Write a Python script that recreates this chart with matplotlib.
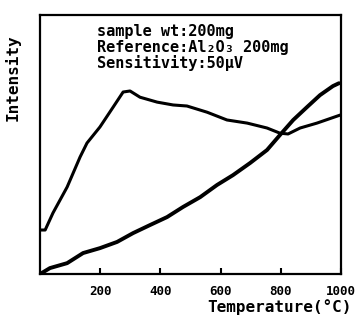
import numpy as np
import matplotlib
matplotlib.use('Agg')
from matplotlib import pyplot as plt

# upper curve (sample)
temp_a = [0, 17, 43, 90, 133, 156, 199, 243, 276, 299, 332, 389, 442, 488,
          555, 621, 688, 754, 797, 824, 864, 920, 997]
int_a = [0.17, 0.17, 0.236, 0.336, 0.452, 0.506, 0.568, 0.645, 0.703, 0.707,
         0.683, 0.664, 0.653, 0.649, 0.625, 0.595, 0.583, 0.564, 0.544, 0.541,
         0.564, 0.583, 0.614]

# lower curve (rising baseline)
temp_b = [0, 33, 90, 143, 199, 256, 309, 365, 422, 475, 532, 588, 641, 698,
          754, 797, 841, 887, 930, 973, 993]
int_b = [0.0, 0.023, 0.042, 0.081, 0.100, 0.124, 0.158, 0.189, 0.220, 0.259,
         0.297, 0.344, 0.382, 0.429, 0.479, 0.537, 0.595, 0.645, 0.691, 0.726,
         0.737]

xticks = [200, 400, 600, 800, 1000]
notes = ['sample wt:200mg', 'Reference:Al₂O₃ 200mg', 'Sensitivity:50μV']

mono = 'DejaVu Sans Mono'

fig = plt.figure(figsize=(3.64, 3.22), dpi=100)
ax = fig.add_axes([0.110, 0.149, 0.827, 0.804])

ax.plot(temp_a, int_a, color='black', lw=2.2, solid_capstyle='round')
ax.plot(temp_b, int_b, color='black', lw=2.8, solid_capstyle='round')

ax.set_xlim(0, 1000)
ax.set_ylim(0, 1)
ax.set_xticks(xticks)
ax.set_xticklabels([str(t) for t in xticks], family=mono, fontsize=9, fontweight='bold')
ax.set_yticks([])
ax.tick_params(axis='x', direction='in', length=4, width=1.5, pad=8)
for s in ax.spines.values():
    s.set_linewidth(1.6)

for i, t in enumerate(notes):
    ax.text(0.19, 0.935 - i * 0.06, t, transform=ax.transAxes, family=mono,
            fontsize=11, fontweight='bold', va='center', ha='left')

fig.text(0.965, 0.045, 'Temperature(°C)', family=mono, fontsize=11.5,
         fontweight='bold', ha='right', va='center')
fig.text(0.036, 0.76, 'Intensity', family=mono, fontsize=11.5,
         fontweight='bold', rotation=90, ha='center', va='center')

fig.savefig('out.png', dpi=100)
